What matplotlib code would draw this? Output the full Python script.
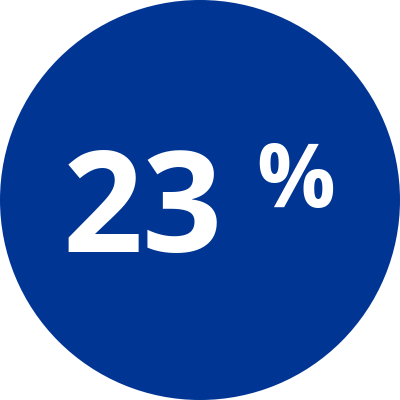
import matplotlib
matplotlib.use("Agg")
import matplotlib.pyplot as plt
from matplotlib.patches import Circle

# data
value = 23
unit = "%"
circle_color = "#003594"
text_color = "white"

fig = plt.figure(figsize=(4, 4), dpi=100)
ax = fig.add_axes([0, 0, 1, 1])
ax.set_xlim(0, 400)
ax.set_ylim(400, 0)
ax.set_aspect("equal")
ax.axis("off")

ax.add_patch(Circle((200, 200), 200, color=circle_color, lw=0))

# big number, baseline at bottom of digits
ax.text(143, 252, str(value), ha="center", va="baseline", color=text_color,
        fontsize=101, fontweight="bold", family=["Open Sans", "DejaVu Sans"])
# percent sign, raised
ax.text(295.5, 207, unit, ha="center", va="baseline", color=text_color,
        fontsize=63, fontweight="bold", family=["Open Sans", "DejaVu Sans"])

fig.savefig("out.png", dpi=100)
